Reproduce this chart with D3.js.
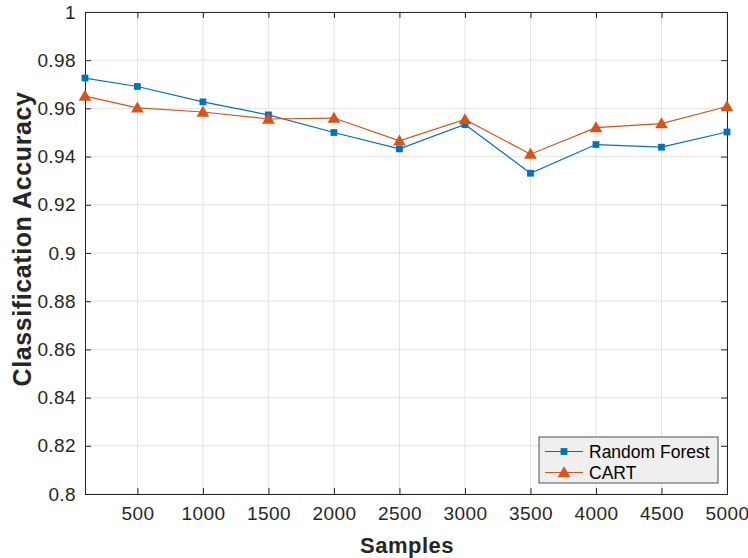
<!DOCTYPE html>
<html>
<head>
<meta charset="utf-8">
<script src="https://cdn.jsdelivr.net/npm/d3@7"></script>
<style>
  body { margin: 0; background: #fff; }
  text { font-family: "Liberation Sans", Arial, Helvetica, sans-serif; }
</style>
</head>
<body>
<script>
// accuracy vs sample size
const samples = [100, 500, 1000, 1500, 2000, 2500, 3000, 3500, 4000, 4500, 5000];
const rfAcc = [0.9726, 0.9691, 0.9627, 0.9573, 0.9500, 0.9432, 0.9533, 0.9331, 0.9450, 0.9439, 0.9502];
const cartAcc = [0.9651, 0.9602, 0.9585, 0.9556, 0.9560, 0.9465, 0.9554, 0.9410, 0.9520, 0.9537, 0.9608];
const xTicks = [500, 1000, 1500, 2000, 2500, 3000, 3500, 4000, 4500, 5000];
const yTicks = [0.8, 0.82, 0.84, 0.86, 0.88, 0.9, 0.92, 0.94, 0.96, 0.98, 1];
const seriesNames = ["Random Forest", "CART"];

const W = 748, H = 558;
const m = { left: 85, right: 21, top: 12, bottom: 64 };
const iw = W - m.left - m.right, ih = H - m.top - m.bottom;

const svg = d3.select("body").append("svg")
  .attr("width", W).attr("height", H);

const x = d3.scaleLinear().domain([100, 5000]).range([0, iw]);
const y = d3.scaleLinear().domain([0.8, 1]).range([ih, 0]);

const g = svg.append("g").attr("transform", `translate(${m.left},${m.top})`);

// grid
g.append("g").selectAll("line").data(xTicks).enter().append("line")
  .attr("x1", d => x(d)).attr("x2", d => x(d))
  .attr("y1", 0).attr("y2", ih)
  .attr("stroke", "#e3e3e3").attr("stroke-width", 1);
g.append("g").selectAll("line").data(yTicks).enter().append("line")
  .attr("x1", 0).attr("x2", iw)
  .attr("y1", d => y(d)).attr("y2", d => y(d))
  .attr("stroke", "#e3e3e3").attr("stroke-width", 1);

// axes
const fmtY = d => String(+d.toFixed(2));
const axStyle = sel => {
  sel.select(".domain").attr("stroke", "#262626");
  sel.selectAll(".tick line").attr("stroke", "#262626");
  sel.selectAll("text").attr("fill", "#262626")
    .style("font-size", "19px").style("letter-spacing", "0.4px");
};
g.append("g").attr("transform", `translate(0,${ih})`)
  .call(d3.axisBottom(x).tickValues(xTicks).tickFormat(d3.format("d"))
    .tickSizeInner(-6).tickSizeOuter(0).tickPadding(13))
  .call(axStyle);
g.append("g")
  .call(d3.axisTop(x).tickValues(xTicks).tickSizeInner(-6).tickSizeOuter(0).tickFormat(""))
  .call(axStyle);
g.append("g")
  .call(d3.axisLeft(y).tickValues(yTicks).tickFormat(fmtY).tickSizeInner(-6).tickSizeOuter(0).tickPadding(9))
  .call(axStyle);
g.append("g").attr("transform", `translate(${iw},0)`)
  .call(d3.axisRight(y).tickValues(yTicks).tickSizeInner(-6).tickSizeOuter(0).tickFormat(""))
  .call(axStyle);

// axis labels
svg.append("text")
  .attr("x", m.left + iw / 2 + 1).attr("y", H - 5)
  .attr("text-anchor", "middle")
  .style("font-size", "22px").style("font-weight", "bold").style("letter-spacing", "0.5px")
  .attr("fill", "#262626")
  .text("Samples");
svg.append("text")
  .attr("transform", `translate(31,${m.top + ih / 2 - 14}) rotate(-90)`)
  .attr("text-anchor", "middle")
  .style("font-size", "25px").style("font-weight", "bold").style("letter-spacing", "0.6px")
  .attr("fill", "#262626")
  .text("Classification Accuracy");

const colors = ["#0072BD", "#D95319"];
const line = d3.line().x((d, i) => x(samples[i])).y(d => y(d));
const sq = d3.symbol().type(d3.symbolSquare).size(46);
const tri = d3.symbol().type(d3.symbolTriangle).size(70);

[rfAcc, cartAcc].forEach((vals, k) => {
  g.append("path").datum(vals)
    .attr("d", line).attr("fill", "none")
    .attr("stroke", colors[k]).attr("stroke-width", 1.2);
  g.append("g").selectAll("path").data(vals).enter().append("path")
    .attr("transform", (d, i) => `translate(${x(samples[i])},${y(d) + (k ? 1 : 0)})`)
    .attr("d", k ? tri : sq)
    .attr("fill", colors[k]);
});

// legend
const lg = svg.append("g").attr("transform", "translate(539,437)");
lg.append("rect").attr("width", 179).attr("height", 46)
  .attr("fill", "#efefef").attr("stroke", "#262626").attr("stroke-width", 0.8);
seriesNames.forEach((name, k) => {
  const yy = 14.5 + k * 21;
  lg.append("line").attr("x1", 6).attr("x2", 44).attr("y1", yy).attr("y2", yy)
    .attr("stroke", colors[k]).attr("stroke-width", 1.2);
  lg.append("path").attr("transform", `translate(25,${yy + (k ? 1 : 0)})`)
    .attr("d", k ? tri : sq).attr("fill", colors[k]);
  lg.append("text").attr("x", 50).attr("y", yy + 6.5)
    .style("font-size", "17.5px").attr("fill", "#000").text(name);
});
</script>
</body>
</html>
